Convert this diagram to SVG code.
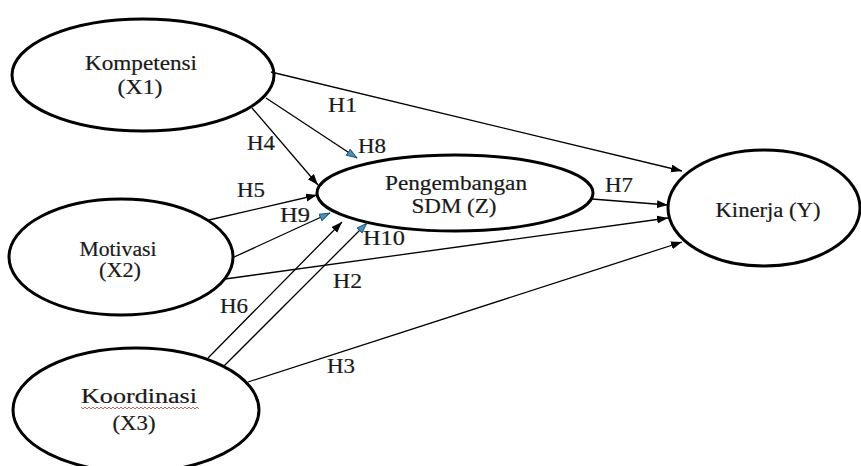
<svg xmlns="http://www.w3.org/2000/svg" width="861" height="466" viewBox="0 0 861 466">
<style>
.node{fill:#fff;stroke:#000;stroke-width:3}
.lbl{font-family:"Liberation Serif","DejaVu Serif","Times New Roman",serif;font-size:20px;fill:#1a1a1a;stroke:#1a1a1a;stroke-width:0.2}
.mid{text-anchor:middle}
.c{fill:none;stroke:#000;stroke-width:1.3}
.sq{fill:none;stroke:#b5564e;stroke-width:0.9}
</style>
<defs>
<marker id="ab" markerUnits="userSpaceOnUse" markerWidth="12" markerHeight="9" refX="11" refY="4" orient="auto">
<path d="M0,0 L11,4 L0,8 z" fill="#000"/>
</marker>
<marker id="au" markerUnits="userSpaceOnUse" markerWidth="12" markerHeight="9" refX="11" refY="4" orient="auto">
<path d="M0.5,0.5 L10.5,4 L0.5,7.5 z" fill="#4f8fb3" stroke="#1f5a7a" stroke-width="1"/>
</marker>
</defs>
<rect width="861" height="466" fill="#fff"/>
<g id="n-kompetensi">
<ellipse class="node" cx="143" cy="75" rx="131" ry="56"/>
<text class="lbl mid" x="141" y="70" textLength="112" lengthAdjust="spacingAndGlyphs">Kompetensi</text>
<text class="lbl mid" x="140" y="94" textLength="45" lengthAdjust="spacingAndGlyphs">(X1)</text>
</g>
<g id="n-motivasi">
<ellipse class="node" cx="121" cy="257" rx="112" ry="58"/>
<text class="lbl mid" x="118" y="256" textLength="77" lengthAdjust="spacingAndGlyphs">Motivasi</text>
<text class="lbl mid" x="120" y="277" textLength="42" lengthAdjust="spacingAndGlyphs">(X2)</text>
</g>
<g id="n-koordinasi">
<ellipse class="node" cx="136" cy="410" rx="123" ry="62"/>
<text class="lbl mid" x="139" y="403" textLength="116" lengthAdjust="spacingAndGlyphs">Koordinasi</text>
<path class="sq" d="M81,407 l2,2 l2,-2 l2,2 l2,-2 l2,2 l2,-2 l2,2 l2,-2 l2,2 l2,-2 l2,2 l2,-2 l2,2 l2,-2 l2,2 l2,-2 l2,2 l2,-2 l2,2 l2,-2 l2,2 l2,-2 l2,2 l2,-2 l2,2 l2,-2 l2,2 l2,-2 l2,2 l2,-2 l2,2 l2,-2 l2,2 l2,-2 l2,2 l2,-2 l2,2 l2,-2 l2,2 l2,-2 l2,2 l2,-2 l2,2 l2,-2 l2,2 l2,-2 l2,2 l2,-2 l2,2 l2,-2 l2,2 l2,-2 l2,2 l2,-2 l2,2 l2,-2 l2,2 l2,-2 l2,2"/>
<text class="lbl mid" x="134" y="430" textLength="43" lengthAdjust="spacingAndGlyphs">(X3)</text>
</g>
<g id="n-pengembangan">
<ellipse class="node" cx="455" cy="193" rx="138" ry="38"/>
<text class="lbl mid" x="456" y="190" textLength="142" lengthAdjust="spacingAndGlyphs">Pengembangan</text>
<text class="lbl mid" x="454" y="213" textLength="85" lengthAdjust="spacingAndGlyphs">SDM (Z)</text>
</g>
<g id="n-kinerja">
<ellipse class="node" cx="764" cy="208" rx="96" ry="58"/>
<text class="lbl mid" x="768" y="217" textLength="105" lengthAdjust="spacingAndGlyphs">Kinerja (Y)</text>
</g>
<g id="connectors">
<line class="c" x1="271" y1="72" x2="682" y2="171" marker-end="url(#ab)"/>
<line class="c" x1="266" y1="98" x2="357" y2="158" marker-end="url(#au)"/>
<line class="c" x1="252" y1="108" x2="318" y2="185" marker-end="url(#ab)"/>
<line class="c" x1="209" y1="220" x2="317" y2="195" marker-end="url(#ab)"/>
<line class="c" x1="232" y1="258" x2="330" y2="213" marker-end="url(#au)"/>
<line class="c" x1="225" y1="279" x2="668" y2="218" marker-end="url(#ab)"/>
<line class="c" x1="592" y1="199" x2="668" y2="205" marker-end="url(#ab)"/>
<line class="c" x1="208" y1="358" x2="342" y2="222" marker-end="url(#ab)"/>
<line class="c" x1="224" y1="366" x2="367" y2="223" marker-end="url(#au)"/>
<line class="c" x1="248" y1="382" x2="682" y2="242" marker-end="url(#ab)"/>
<g id="edge-labels">
<text class="lbl" x="328" y="112" textLength="29" lengthAdjust="spacingAndGlyphs">H1</text>
<text class="lbl" x="247" y="150" textLength="28" lengthAdjust="spacingAndGlyphs">H4</text>
<text class="lbl" x="358" y="153" textLength="28" lengthAdjust="spacingAndGlyphs">H8</text>
<text class="lbl" x="237" y="197" textLength="28" lengthAdjust="spacingAndGlyphs">H5</text>
<text class="lbl" x="605" y="192" textLength="28" lengthAdjust="spacingAndGlyphs">H7</text>
<text class="lbl" x="280" y="222" textLength="30" lengthAdjust="spacingAndGlyphs">H9</text>
<text class="lbl" x="363" y="245" textLength="42" lengthAdjust="spacingAndGlyphs">H10</text>
<text class="lbl" x="333" y="288" textLength="29" lengthAdjust="spacingAndGlyphs">H2</text>
<text class="lbl" x="220" y="313" textLength="28" lengthAdjust="spacingAndGlyphs">H6</text>
<text class="lbl" x="327" y="373" textLength="28" lengthAdjust="spacingAndGlyphs">H3</text>
</g>
</g>
</svg>
